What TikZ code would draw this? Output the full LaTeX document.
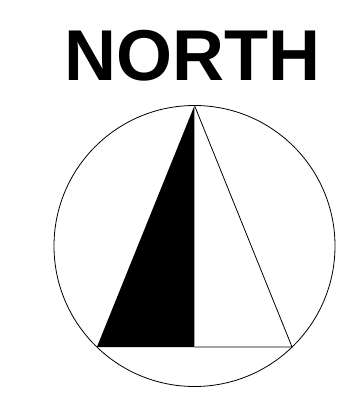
\documentclass[tikz,border=0pt]{standalone}
\usepackage{fontspec}
\setmainfont{Liberation Sans}
\usetikzlibrary{calc}

\begin{document}
\begin{tikzpicture}[x=0.75pt,y=0.75pt]
\useasboundingbox (0,0) rectangle (350,405);
\coordinate (O) at (194.5,159);
\coordinate (N) at ($(O)+(90:140.5)$);
\coordinate (L) at ($(O)+(226:140.5)$);
\coordinate (R) at ($(O)+(314:140.5)$);
\coordinate (M) at ($(L)!(N)!(R)$);

\fill (L) -- (M) -- (N) -- cycle;
\draw[line width=0.6pt] (O) circle (140.5);
\draw[line width=0.6pt] (N) -- (R) -- (M);

\node[font=\bfseries\fontsize{54}{54}\selectfont, anchor=base, inner sep=0pt] (title) at (192.5,325) {NORTH};
\end{tikzpicture}
\end{document}
